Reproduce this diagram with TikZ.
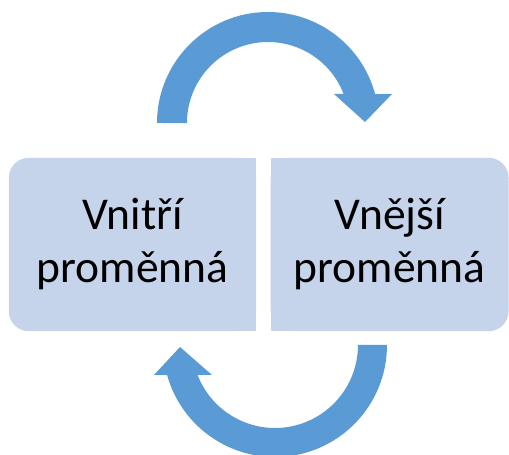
\documentclass[tikz,border=0pt]{standalone}
\usepackage{fontspec}
\setmainfont{Carlito}
\usetikzlibrary{positioning,backgrounds}
\definecolor{CycBox}{HTML}{C5D4EA}
\definecolor{CycArrow}{HTML}{5B9BD5}
\begin{document}
\begin{tikzpicture}[x=1pt,y=1pt,
        bx/.style={minimum width=247pt,minimum height=173pt,inner sep=0pt,align=center,font=\fontsize{45.5pt}{53pt}\selectfont},
        ar/.style={fill=CycArrow}]
        \useasboundingbox (0,0) rectangle (509,455);
        \node[bx] (in) at (132.5,210.5) {Vnitří\\proměnná};
        \node[bx,minimum width=237.5pt,right=14.5pt of in] (out) {Vnější\\proměnná};
        \begin{scope}[on background layer]
          \fill[CycBox,rounded corners=20pt] (in.south west) rectangle (in.north east); \fill[CycBox] (in.south) rectangle (in.north east);
          \fill[CycBox,rounded corners=20pt] (out.south west) rectangle (out.north east); \fill[CycBox] (out.south west) rectangle (out.north);
        \end{scope}
        % block arrows
        \fill[ar] (157,332) arc[start angle=180,end angle=15.1,radius=111] -- (392,361) -- (365,333) -- (334,361) -- (343.6,361) arc[start angle=21,end angle=180,radius=81] -- cycle;
        \fill[ar] (387,110) arc[start angle=0,end angle=-164.5,radius=112] -- (154,80) -- (180,108) -- (212,80) -- (197.6,80) arc[start angle=-158.8,end angle=0,radius=83] -- cycle;
      \end{tikzpicture}
\end{document}
